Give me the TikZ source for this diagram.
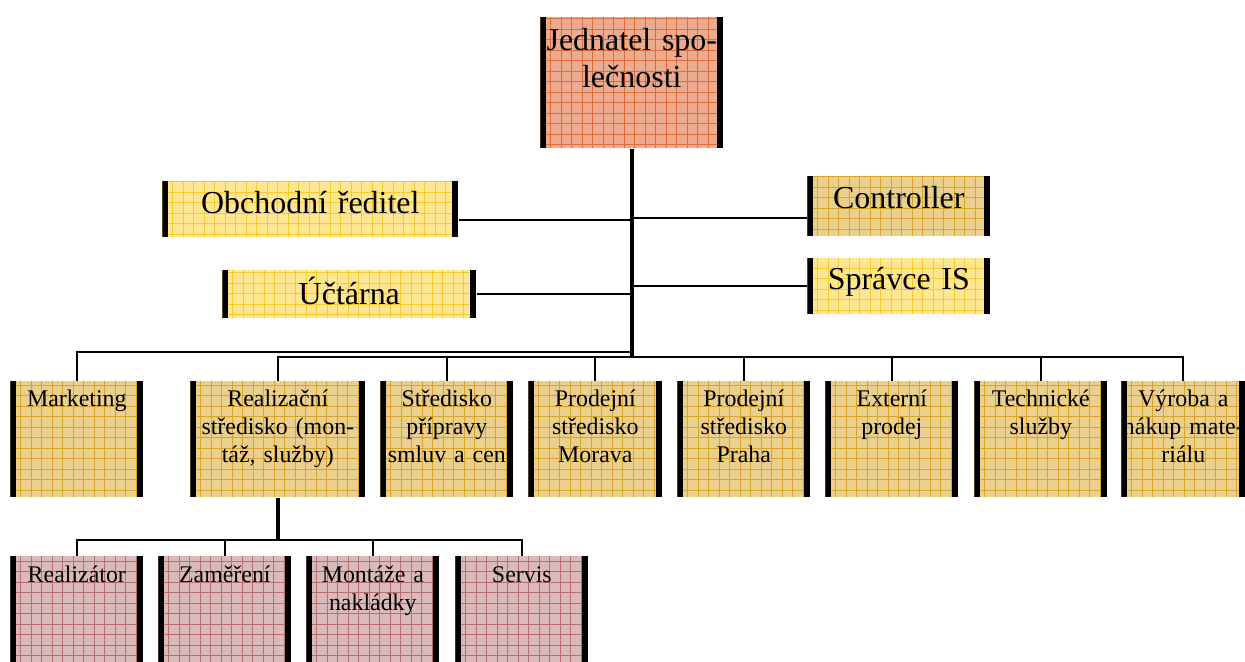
\documentclass[tikz,border=0pt]{standalone}
\usepackage{fontspec}
\setmainfont{Liberation Serif}
\definecolor{ceoFill}{RGB}{236,170,142}
\definecolor{ceoGrid}{RGB}{220,108,56}
\definecolor{yelFill}{RGB}{255,231,146}
\definecolor{yelGrid}{RGB}{246,202,48}
\definecolor{tanFill}{RGB}{234,208,140}
\definecolor{tanGrid}{RGB}{214,166,44}
\definecolor{pinkFill}{RGB}{218,186,186}
\definecolor{pinkGrid}{RGB}{182,112,112}

\tikzset{
  orgbox/.style 2 args={rectangle, anchor=north west, inner sep=0pt, align=center,
    fill=#1, path picture={
      \draw[#2, line width=0.45pt] (path picture bounding box.south west)
        grid[step=0.21cm] (path picture bounding box.north east);
      \fill[black] (path picture bounding box.south west)
        rectangle ([xshift=0.12cm]path picture bounding box.north west);
      \fill[black] ([xshift=-0.12cm]path picture bounding box.south east)
        rectangle (path picture bounding box.north east);
    }},
  bigtext/.style={font=\fontsize{18.2pt}{21pt}\selectfont},
  smalltext/.style={font=\fontsize{13.6pt}{15.9pt}\selectfont},
  deptbox/.style={orgbox={tanFill}{tanGrid}, smalltext, text height=0.5cm, text depth=1.82cm, text width=2.66cm},
  unitbox/.style={orgbox={pinkFill}{pinkGrid}, smalltext, text height=0.52cm, text depth=1.6cm, text width=2.66cm},
  link/.style={line width=1.1pt},
  trunk/.style={line width=1.9pt}
}

\begin{document}
\begin{tikzpicture}[x=0.02cm, y=-0.02cm]
  \useasboundingbox (0,0) rectangle (1245,662);

  \node[orgbox={ceoFill}{ceoGrid}, bigtext, text width=3.66cm, text height=0.66cm, text depth=1.96cm]
    (ceo) at (540,17) {Jednatel spo-\\lečnosti};
  \node[orgbox={yelFill}{yelGrid}, bigtext, text width=5.92cm, text height=0.64cm, text depth=0.48cm]
    (obch) at (162,181) {Obchodní ředitel};
  \node[orgbox={yelFill}{yelGrid}, bigtext, text width=5.08cm, text height=0.68cm, text depth=0.28cm]
    (ucto) at (222,270) {Účtárna};
  \node[orgbox={tanFill}{tanGrid}, bigtext, text width=3.66cm, text height=0.64cm, text depth=0.56cm]
    (ctrl) at (807,176) {Controller};
  \node[orgbox={yelFill}{yelGrid}, bigtext, text width=3.66cm, text height=0.62cm, text depth=0.5cm]
    (spis) at (807,258) {Správce IS};

  \node[deptbox] (mark) at (10,381) {Marketing};
  \node[deptbox, text width=3.5cm] (real) at (190,381) {Realizační\\středisko (mon-\\táž, služby)};
  \node[deptbox] (smlu) at (380,381) {Středisko\\přípravy\\smluv a cen};
  \node[deptbox, text width=2.68cm] (mora) at (528,381) {Prodejní\\středisko\\Morava};
  \node[deptbox] (praha) at (677,381) {Prodejní\\středisko\\Praha};
  \node[deptbox] (ext) at (825,381) {Externí\\prodej};
  \node[deptbox] (tech) at (974,381) {Technické\\služby};
  \node[deptbox, text width=2.48cm] (vyr) at (1121,381) {Výroba a\\nákup mate-\\riálu};

  \node[unitbox] (rlz) at (10,556) {Realizátor};
  \node[unitbox] (zam) at (158,556) {Zaměření};
  \node[unitbox] (mont) at (306,556) {Montáže a\\nakládky};
  \node[unitbox] (srv) at (455,556) {Servis};

  \coordinate (hubA) at (0,352);
  \coordinate (hubB) at (0,357);
  \coordinate (hubC) at (0,540);
  \coordinate (obchin) at ([yshift=-0.22cm]obch.east);
  \coordinate (ctrlin) at ([yshift=-0.24cm]ctrl.west);

  \draw[trunk] (ceo.south) -- (ceo.south |- hubB);
  \draw[link] (obchin) -- (obchin -| ceo.south);
  \draw[link] (ucto.east) -- (ucto.east -| ceo.south);
  \draw[link] (ctrlin) -- (ctrlin -| ceo.south);
  \draw[link] (spis.west) -- (spis.west -| ceo.south);

  \draw[link] (mark.north) |- (ceo.south |- hubA);
  \draw[link] (real.north) |- (vyr.north |- hubB) -- (vyr.north);
  \foreach \d in {smlu,mora,praha,ext,tech}
    \draw[link] (\d.north) -- (\d.north |- hubB);

  \draw[trunk] (real.south) -- (real.south |- hubC);
  \draw[link] (rlz.north) |- (srv.north |- hubC) -- (srv.north);
  \foreach \u in {zam,mont}
    \draw[link] (\u.north) -- (\u.north |- hubC);
\end{tikzpicture}
\end{document}
